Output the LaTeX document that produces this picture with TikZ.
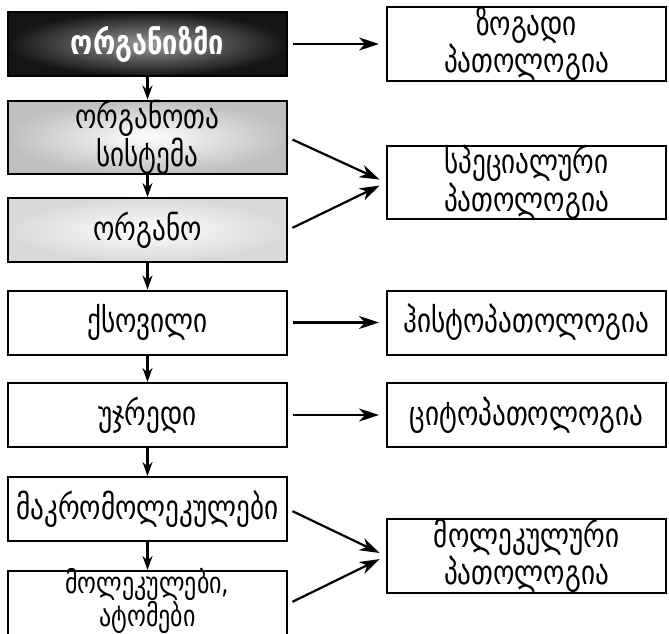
\documentclass[tikz,border=0pt]{standalone}
\usepackage{fontspec}
\setmainfont{DejaVu Sans}
\newfontfamily\gfont[FakeStretch=0.8]{DejaVu Sans}
\newcommand\gtxt{\gfont\fontsize{34}{28}\selectfont}
\newcommand\gtxtsmall{\gfont\fontsize{30}{25}\selectfont}
\usetikzlibrary{arrows.meta}
\begin{document}
\begin{tikzpicture}[x=1pt,y=-1pt,
  box/.style={draw=black, line width=2pt, minimum width=279pt, minimum height=64pt,
              inner sep=0pt, font=\gtxt, align=center},
  label/.style={inner sep=0pt, font=\gtxtsmall, align=center},
  darkbox/.style={box, shading=radial, inner color=black!40, outer color=black!92, text=white, font=\gtxt\bfseries},
  greyboxa/.style={box, shading=radial, inner color=white, outer color=black!25},
  greyboxb/.style={box, shading=radial, inner color=white, outer color=black!15},
  down/.style={line width=2.2pt, -{Stealth[length=14pt,width=10pt]}},
  side/.style={line width=2.2pt, -{Stealth[length=20pt,width=13pt,inset=6pt]}, shorten <=5pt, shorten >=7pt}
]
\useasboundingbox (0,0) rectangle (669,634);
% left column
\node[darkbox] (b1) at (147.5,44) {ორგანიზმი};
\node[greyboxa] (b2) at (147.5,137.5) {ორგანოთა\\სისტემა};
\node[greyboxb] (b3) at (147.5,230) {ორგანო};
\node[box] (b4) at (147.5,322.5) {ქსოვილი};
\node[box] (b5) at (147.5,415) {უჯრედი};
\node[box] (b6) at (147.5,509) {მაკრომოლეკულები};
\node[box, minimum height=66pt] (b7) at (147.5,604) {};
\node[label] (b7t) at (147.5,601) {მოლეკულები,\\ატომები};
% right column
\node[box] (r1) at (526.5,44) {ზოგადი\\პათოლოგია};
\node[box] (r2) at (526.5,182.5) {სპეციალური\\პათოლოგია};
\node[box] (r3) at (526.5,322.5) {ჰისტოპათოლოგია};
\node[box] (r4) at (526.5,415) {ციტოპათოლოგია};
\node[box] (r5) at (526.5,556) {მოლეკულური\\პათოლოგია};
% vertical arrows
\draw[down] (b1) -- (b2);
\draw[down] (b2) -- (b3);
\draw[down] (b3) -- (b4);
\draw[down] (b4) -- (b5);
\draw[down] (b5) -- (b6);
\draw[down] (b6) -- (b7);
% side arrows
\draw[side] (b1.east) -- (r1.west);
\draw[side] (b2.east) -- (r2.west);
\draw[side] (b3.east) -- (r2.west);
\draw[side] (b4.east) -- (r3.west);
\draw[side] (b5.east) -- (r4.west);
\draw[side] (b6.east) -- (r5.west);
\draw[side] (b7.east) -- (r5.west);
\end{tikzpicture}
\end{document}
